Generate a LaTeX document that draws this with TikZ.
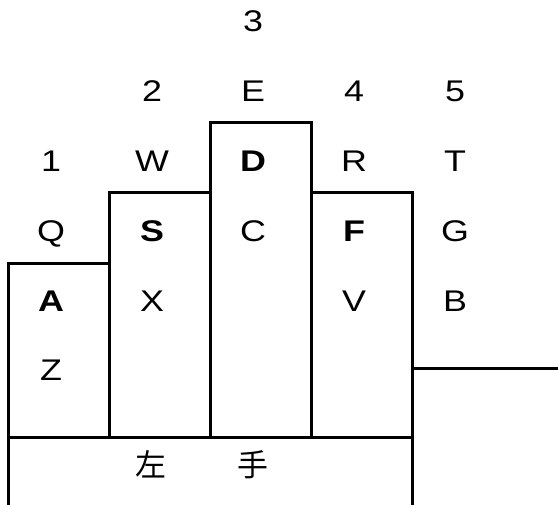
\documentclass[tikz,border=0pt]{standalone}
\usepackage{fontspec}
\setmainfont{Liberation Sans}[FakeStretch=1.2]
\newfontfamily\cjk{Noto Sans CJK JP}
\begin{document}
\begin{tikzpicture}[x=1bp,y=-1bp,
  key/.style={inner sep=0pt,font=\fontsize{30}{31}\selectfont,text height=21.5bp,text depth=0pt,anchor=center},
  homekey/.style={key,font=\fontsize{30}{31}\selectfont\bfseries},
  kanji/.style={inner sep=0pt,font=\cjk\fontsize{31}{32}\selectfont,text height=0.88em,text depth=0.12em,anchor=center},
  wall/.style={line width=3bp,line join=miter}]
\useasboundingbox (0,0) rectangle (558,505);
% column outlines
\draw[wall] (8,510) -- (8,263) -- (109,263) -- (109,437);
\draw[wall] (109,437) -- (109,193) -- (210,193) -- (210,437);
\draw[wall] (210,437) -- (210,123) -- (311,123) -- (311,437);
\draw[wall] (311,437) -- (311,193) -- (412,193) -- (412,510);
\draw[wall] (8,437) -- (412,437);
\draw[wall] (412,368) -- (560,368);
% labels
\node[key] (n3) at (253,21) {3};
\node[key] (n2) at (152,91) {2};
\node[key] (kE) at (253,91) {E};
\node[key] (n4) at (354,91) {4};
\node[key] (n5) at (455,91) {5};
\node[key] (n1) at (51,161) {1};
\node[key] (kW) at (152,161) {W};
\node[homekey] (kD) at (253,161) {D};
\node[key] (kR) at (354,161) {R};
\node[key] (kT) at (455,161) {T};
\node[key] (kQ) at (51,231) {Q};
\node[homekey] (kS) at (152,231) {S};
\node[key] (kC) at (253,231) {C};
\node[homekey] (kF) at (354,231) {F};
\node[key] (kG) at (455,231) {G};
\node[homekey] (kA) at (51,301) {A};
\node[key] (kX) at (152,301) {X};
\node[key] (kV) at (354,301) {V};
\node[key] (kB) at (455,301) {B};
\node[key] (kZ) at (51,370) {Z};
\node[kanji] (left) at (151,473) {左};
\node[kanji] (hand) at (253,473) {手};
\end{tikzpicture}
\end{document}
